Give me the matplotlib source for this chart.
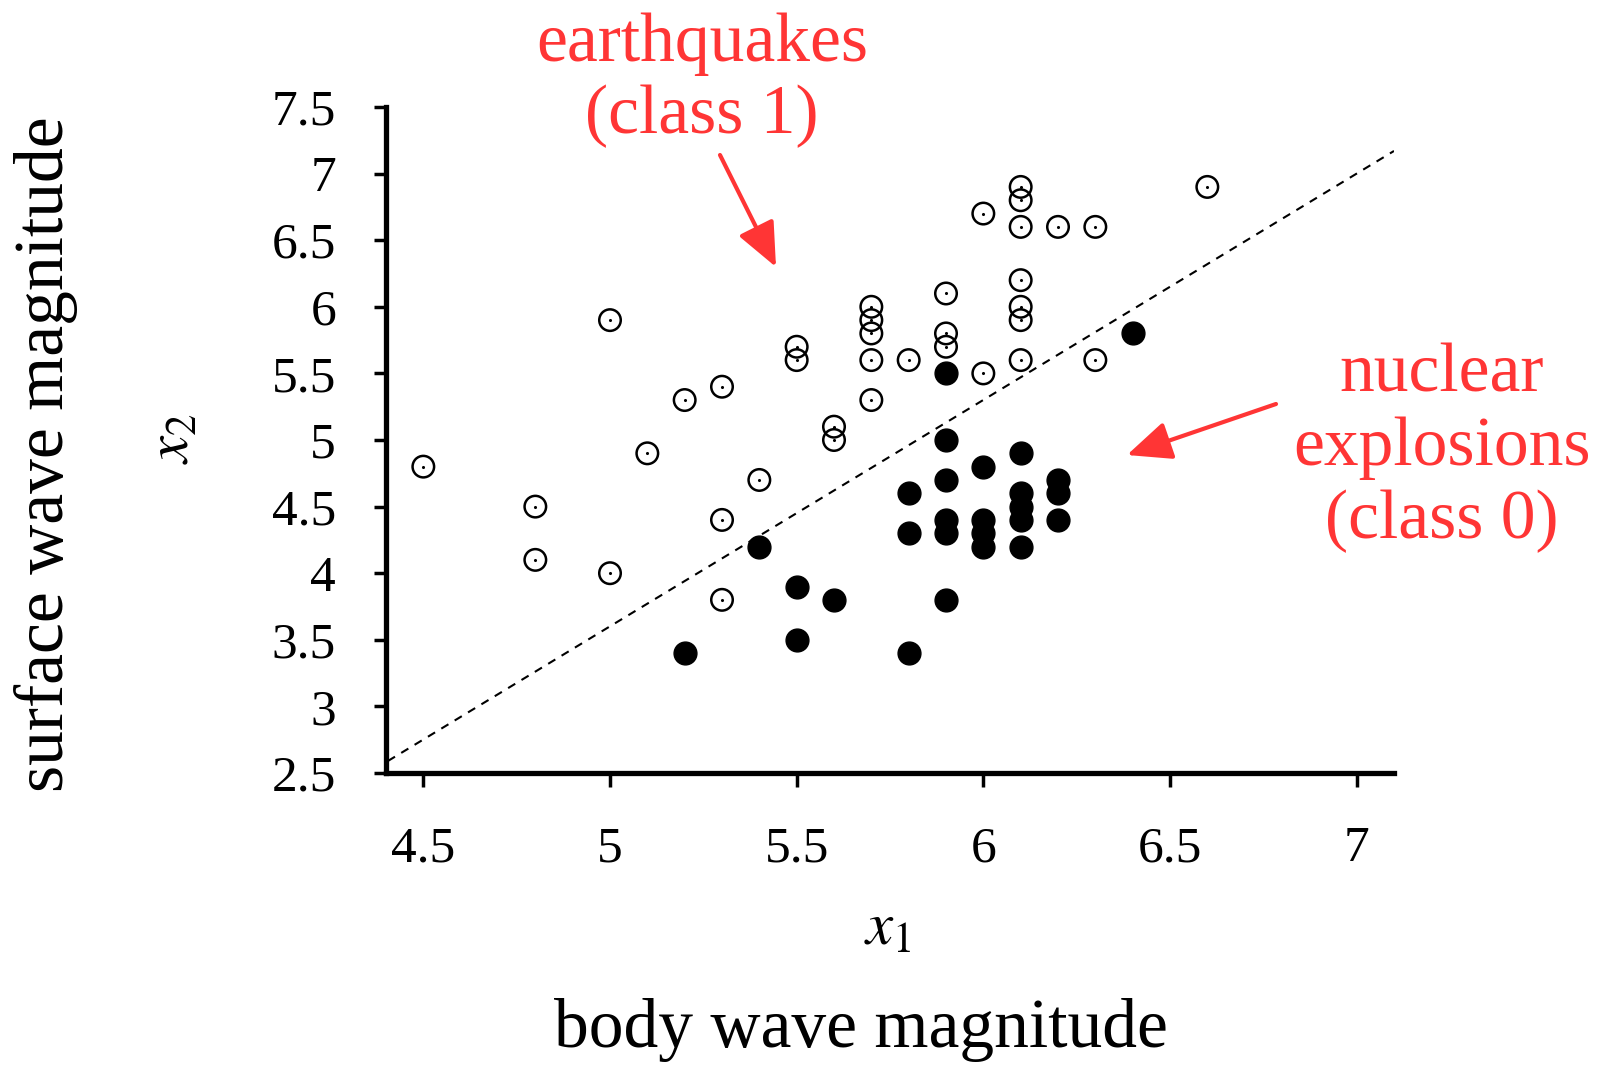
import matplotlib
matplotlib.use("Agg")
import matplotlib.pyplot as plt

# ---- data ----
quake_x1 = [4.5, 4.8, 4.8, 5.0, 5.0, 5.1, 5.2, 5.3, 5.3, 5.3, 5.4, 5.5, 5.5,
            5.6, 5.6, 5.7, 5.7, 5.7, 5.7, 5.7, 5.8, 5.9, 5.9, 5.9, 6.0, 6.0,
            6.1, 6.1, 6.1, 6.1, 6.1, 6.1, 6.1, 6.2, 6.3, 6.3, 6.6]
quake_x2 = [4.8, 4.5, 4.1, 5.9, 4.0, 4.9, 5.3, 5.4, 4.4, 3.8, 4.7, 5.7, 5.6,
            5.1, 5.0, 6.0, 5.9, 5.8, 5.6, 5.3, 5.6, 6.1, 5.8, 5.7, 6.7, 5.5,
            6.9, 6.8, 6.6, 6.2, 6.0, 5.9, 5.6, 6.6, 6.6, 5.6, 6.9]

nuke_x1 = [5.2, 5.4, 5.5, 5.5, 5.6, 5.8, 5.8, 5.8, 5.9, 5.9, 5.9, 5.9, 5.9,
           5.9, 6.0, 6.0, 6.0, 6.0, 6.1, 6.1, 6.1, 6.1, 6.1, 6.2, 6.2, 6.2, 6.4]
nuke_x2 = [3.4, 4.2, 3.9, 3.5, 3.8, 4.6, 4.3, 3.4, 5.5, 5.0, 4.7, 4.4, 4.3,
           3.8, 4.8, 4.4, 4.3, 4.2, 4.9, 4.6, 4.5, 4.4, 4.2, 4.7, 4.6, 4.4, 5.8]

boundary_x1 = [4.405, 7.1]
boundary_x2 = [2.59, 7.17]

x_ticks = [4.5, 5, 5.5, 6, 6.5, 7]
x_tick_labels = ["4.5", "5", "5.5", "6", "6.5", "7"]
y_ticks = [2.5, 3, 3.5, 4, 4.5, 5, 5.5, 6, 6.5, 7, 7.5]
y_tick_labels = ["2.5", "3", "3.5", "4", "4.5", "5", "5.5", "6", "6.5", "7", "7.5"]

RED = "#ff3535"
SERIF = "Liberation Serif"
plt.rcParams["font.family"] = SERIF
plt.rcParams["mathtext.fontset"] = "stix"

W, H = 1601, 1066
fig = plt.figure(figsize=(W / 100, H / 100), dpi=100)
ax = fig.add_axes([386 / W, 1 - 773 / H, (1394 - 386) / W, (773 - 107) / H])
ax.set_xlim(4.40, 7.1)
ax.set_ylim(2.5, 7.5)

for s in ["top", "right"]:
    ax.spines[s].set_visible(False)
for s in ["left", "bottom"]:
    ax.spines[s].set_linewidth(3.8)
    ax.spines[s].set_capstyle("projecting")

ax.plot(boundary_x1, boundary_x2, color="black", lw=1.5, ls=(0, (4, 3.5)), zorder=1)

ax.scatter(quake_x1, quake_x2, s=240, facecolors="none", edgecolors="black",
           linewidths=1.8, zorder=3, clip_on=False)
ax.scatter(quake_x1, quake_x2, s=1.5, color="black", zorder=3, clip_on=False)
ax.scatter(nuke_x1, nuke_x2, s=270, color="black", zorder=3, clip_on=False)

ax.set_xticks(x_ticks)
ax.set_xticklabels(x_tick_labels)
ax.set_yticks(y_ticks)
ax.set_yticklabels(y_tick_labels)
ax.tick_params(axis="x", length=10, width=2.5, pad=28, labelsize=37)
ax.tick_params(axis="y", length=9, width=2.5, pad=27, labelsize=37)

fig.text(888 / W, 1 - 930 / H, r"$x_1$", fontsize=44, ha="center", va="center")
fig.text(174 / W, 1 - 439 / H, r"$x_2$", fontsize=44, ha="center", va="center",
         rotation=90)
fig.text(46 / W, 1 - 454 / H, "surface wave magnitude", fontsize=50,
         ha="center", va="center", rotation=90)
fig.text(861 / W, 1 - 1030 / H, "body wave magnitude", fontsize=50,
         ha="center", va="center")

fig.text(702 / W, 1 - 80 / H, "earthquakes\n(class 1)", fontsize=50, color=RED,
         ha="center", va="center", linespacing=1.18)
fig.text(1442 / W, 1 - 448 / H, "nuclear\nexplosions\n(class 0)", fontsize=50,
         color=RED, ha="center", va="center", linespacing=1.2)

arrow = dict(arrowstyle="-|>,head_length=0.8,head_width=0.35", color=RED,
             lw=3, mutation_scale=34, shrinkA=0, shrinkB=0)
ax.annotate("", xy=(776, H - 267), xycoords="figure pixels",
            xytext=(720, H - 155), textcoords="figure pixels", arrowprops=arrow)
ax.annotate("", xy=(1127, H - 455), xycoords="figure pixels",
            xytext=(1276, H - 404), textcoords="figure pixels", arrowprops=arrow)

fig.savefig("out.png", dpi=100)
